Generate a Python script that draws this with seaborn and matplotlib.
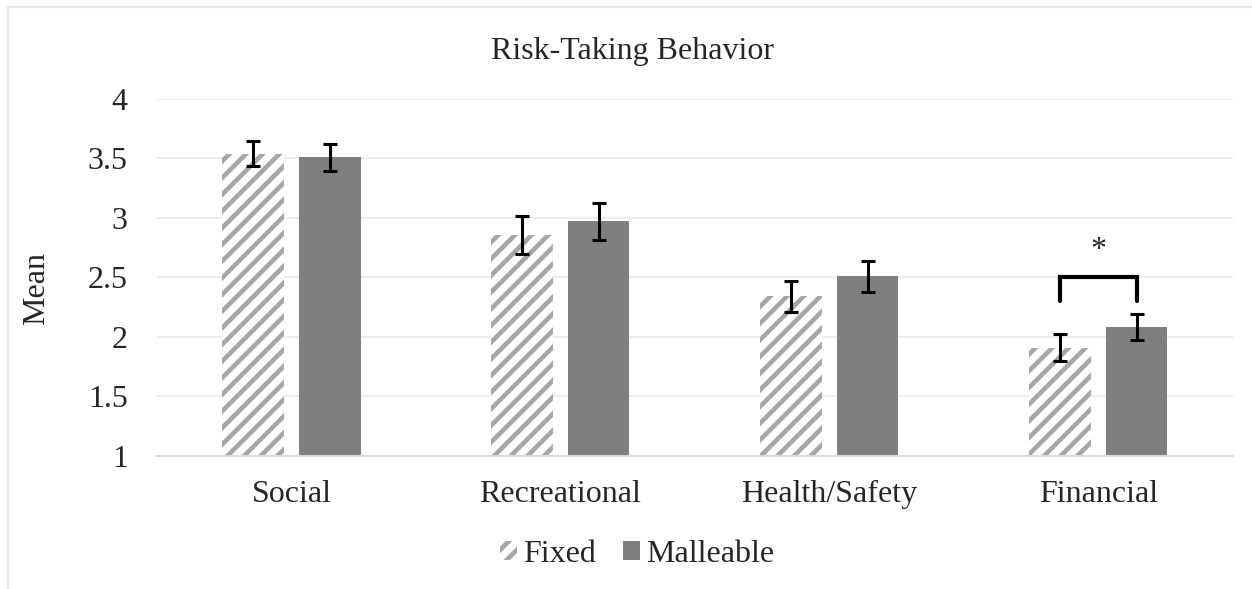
import matplotlib
matplotlib.use("Agg")
import matplotlib.pyplot as plt
import seaborn as sns
import pandas as pd
from matplotlib.lines import Line2D

# values
categories = ["Social", "Recreational", "Health/Safety", "Financial"]
groups = ["Fixed", "Malleable"]
fixed_mean = [3.54, 2.86, 2.34, 1.91]
malleable_mean = [3.51, 2.97, 2.51, 2.08]
fixed_se = [0.105, 0.16, 0.13, 0.115]
malleable_se = [0.115, 0.155, 0.13, 0.11]

df = pd.DataFrame({
    "domain": categories * 2,
    "mindset": ["Fixed"] * 4 + ["Malleable"] * 4,
    "mean": fixed_mean + malleable_mean,
    "se": fixed_se + malleable_se,
})

sns.set_style("white")
plt.rcParams["font.family"] = ["Liberation Serif", "DejaVu Serif"]
plt.rcParams["hatch.linewidth"] = 3.3
FS = 23

fig = plt.figure(figsize=(12.52, 5.89), dpi=100)
ax = fig.add_axes([0.1254, 0.226, 0.8594, 0.606])

sns.barplot(data=df, x="domain", y="mean", hue="mindset", order=categories,
            hue_order=groups, palette=["white", "#7f7f7f"], width=0.572,
            gap=0.206, errorbar=None, saturation=1, legend=False, ax=ax)

# hatched "Fixed" bars, hatch colour comes from the edge colour
for bar in ax.containers[0]:
    bar.set_facecolor("white")
    bar.set_edgecolor("#a6a6a6")
    bar.set_linewidth(0)
    bar.set_hatch("//")
for bar in ax.containers[1]:
    bar.set_linewidth(0)

# error bars at the bar centres
centers = {}
for cont, grp in zip(ax.containers, groups):
    sub = df[df["mindset"] == grp].set_index("domain").loc[categories]
    xs = [b.get_x() + b.get_width() / 2 for b in cont]
    centers[grp] = xs
    ax.errorbar(xs, sub["mean"], yerr=sub["se"], fmt="none", ecolor="black",
                elinewidth=2.2, capsize=4.8, capthick=2.2, zorder=5)

# significance bracket on Financial
x0, x1 = centers["Fixed"][3], centers["Malleable"][3]
ax.plot([x0, x0, x1, x1], [2.30, 2.50, 2.50, 2.30], color="black", lw=3,
        solid_joinstyle="miter", zorder=5)
ax.text((x0 + x1) / 2, 2.73, "*", ha="center", va="center", fontsize=FS)

ax.set_xlim(-0.5, len(categories) - 0.5)
ax.set_ylim(1, 4)
ax.set_yticks([1, 1.5, 2, 2.5, 3, 3.5, 4])
ax.set_yticklabels(["1", "1.5", "2", "2.5", "3", "3.5", "4"])
ax.yaxis.grid(True, color="#ececec", lw=1.3)
ax.set_axisbelow(True)
for s in ["top", "right", "left"]:
    ax.spines[s].set_visible(False)
ax.spines["bottom"].set_color("#d9d9d9")
ax.spines["bottom"].set_linewidth(1.5)
ax.tick_params(axis="both", length=0, labelsize=FS)
ax.tick_params(axis="y", pad=21)
ax.tick_params(axis="x", pad=33)
# keep all category labels on one baseline
for lbl in ax.get_xticklabels():
    lbl.set_verticalalignment("baseline")
ax.set_xlabel("")
ax.set_ylabel("")

fig.text(0.505, 0.912, "Risk-Taking Behavior", ha="center", va="center", fontsize=FS)
fig.text(0.029, 0.511, "Mean", rotation=90, ha="center", va="center", fontsize=FS)

handles = [ax.containers[0][0], ax.containers[1][0]]
fig.legend(handles, groups, loc="center", bbox_to_anchor=(0.509, 0.059),
           ncol=2, frameon=False, fontsize=FS, handlelength=0.52,
           handleheight=0.52, handletextpad=0.2, columnspacing=0.84)

# faint chart-area border
fig.add_artist(Line2D([8 / 1252, 1], [1 - 7 / 589, 1 - 7 / 589],
                      color="#e6e6e6", lw=1.5, transform=fig.transFigure))
fig.add_artist(Line2D([8 / 1252, 8 / 1252], [0, 1 - 7 / 589],
                      color="#e6e6e6", lw=1.5, transform=fig.transFigure))

fig.savefig("out.png", dpi=100)
